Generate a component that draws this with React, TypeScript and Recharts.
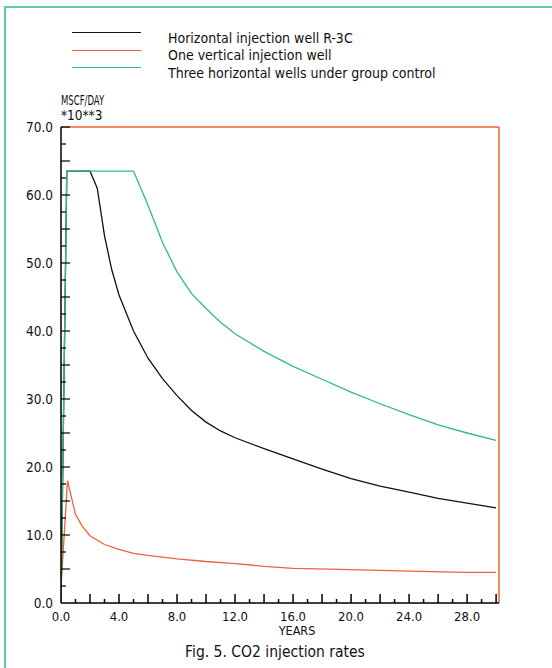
import React from 'react';
import { LineChart, Line, XAxis, YAxis, ReferenceLine } from 'recharts';

// years vs MSCF/DAY *10**3
const horizontalR3C = [
  { t: 0, v: 0 }, { t: 0.4, v: 63.5 }, { t: 2.0, v: 63.5 }, { t: 2.5, v: 61 },
  { t: 3, v: 54 }, { t: 3.5, v: 49 }, { t: 4, v: 45.3 }, { t: 5, v: 40 },
  { t: 6, v: 36 }, { t: 7, v: 33 }, { t: 8, v: 30.5 }, { t: 9, v: 28.3 },
  { t: 10, v: 26.6 }, { t: 11, v: 25.3 }, { t: 12, v: 24.3 }, { t: 14, v: 22.7 },
  { t: 16, v: 21.2 }, { t: 18, v: 19.7 }, { t: 20, v: 18.3 }, { t: 22, v: 17.2 },
  { t: 24, v: 16.3 }, { t: 26, v: 15.4 }, { t: 28, v: 14.7 }, { t: 30, v: 14.0 },
];

const oneVertical = [
  { t: 0, v: 2.3 }, { t: 0.45, v: 18 }, { t: 1, v: 13 }, { t: 1.5, v: 11.2 },
  { t: 2, v: 9.9 }, { t: 3, v: 8.6 }, { t: 4, v: 7.9 }, { t: 5, v: 7.3 },
  { t: 6, v: 7.0 }, { t: 8, v: 6.5 }, { t: 10, v: 6.1 }, { t: 12, v: 5.8 },
  { t: 14, v: 5.4 }, { t: 16, v: 5.1 }, { t: 20, v: 4.9 }, { t: 24, v: 4.7 },
  { t: 28, v: 4.5 }, { t: 30, v: 4.5 },
];

const threeGroup = [
  { t: 0, v: 0 }, { t: 0.4, v: 63.5 }, { t: 5.0, v: 63.5 }, { t: 6, v: 58.5 },
  { t: 7, v: 53 }, { t: 8, v: 48.7 }, { t: 9, v: 45.5 }, { t: 10, v: 43.3 },
  { t: 11, v: 41.3 }, { t: 12, v: 39.6 }, { t: 14, v: 37 }, { t: 16, v: 34.8 },
  { t: 18, v: 32.9 }, { t: 20, v: 31 }, { t: 22, v: 29.3 }, { t: 24, v: 27.7 },
  { t: 26, v: 26.2 }, { t: 28, v: 25 }, { t: 30, v: 23.9 },
];

const xTicks = Array.from({ length: 31 }, (_, i) => i);
const yTicks = Array.from({ length: 29 }, (_, i) => i * 2.5);

const legendItems = [
  { label: 'Horizontal injection well R-3C', color: '#111111' },
  { label: 'One vertical injection well', color: '#f0603a' },
  { label: 'Three horizontal wells under group control', color: '#2dbf7a' },
];

const FONT = "'DejaVu Sans Condensed', 'DejaVu Sans', sans-serif";

const XTick = ({ x, y, payload }: any) => {
  const v = payload.value;
  const major = v % 2 === 0;
  return (
    <g>
      {v !== 0 && (
        <line x1={x} x2={x} y1={y} y2={y - (major ? 9 : 4)} stroke="#000" strokeWidth={1.5} />
      )}
      {v % 4 === 0 && (
        <text x={x} y={y + 18} textAnchor="middle" fontSize={13} fontFamily={FONT} fill="#111">
          {v.toFixed(1)}
        </text>
      )}
    </g>
  );
};

const YTick = ({ x, y, payload }: any) => {
  const v = payload.value;
  const major = v % 5 === 0;
  return (
    <g>
      {v !== 0 && (
        <line x1={x} x2={x + (major ? 9 : 5)} y1={y} y2={y} stroke="#000" strokeWidth={1.2} />
      )}
      {v % 10 === 0 && (
        <text x={x - 8} y={y + 5} textAnchor="end" fontSize={13.5} fontFamily={FONT} fill="#111">
          {v.toFixed(1)}
        </text>
      )}
    </g>
  );
};

const narrow = (sx: number): React.CSSProperties => ({ transform: `scaleX(${sx})`, transformOrigin: 'left center' });

export default function App() {
  return (
    <div style={{ position: 'absolute', left: 0, top: 0, width: 552, height: 668, background: '#fff', fontFamily: FONT }}>
      <div style={{ position: 'absolute', left: 4, top: 6, width: 548, height: 662, borderLeft: '2px solid #62cf9a', borderTop: '2px solid #62cf9a' }} />
      <LineChart
        width={552}
        height={668}
        margin={{ top: 127, right: 53, left: 0, bottom: 0 }}
        style={{ position: 'absolute', left: 0, top: 0 }}
      >
        <XAxis
          type="number"
          dataKey="t"
          domain={[0, 30.2]}
          ticks={xTicks}
          interval={0}
          allowDataOverflow
          height={65}
          tickSize={0}
          tickMargin={0}
          tickLine={false}
          axisLine={{ stroke: '#000', strokeWidth: 1.5 }}
          tick={<XTick />}
        />
        <YAxis
          type="number"
          domain={[0, 70]}
          ticks={yTicks}
          interval={0}
          width={61}
          tickSize={0}
          tickMargin={0}
          tickLine={false}
          axisLine={{ stroke: '#000', strokeWidth: 1.5 }}
          tick={<YTick />}
        />
        <ReferenceLine y={70} stroke="#f0603a" strokeWidth={1.5} />
        <ReferenceLine x={30.2} stroke="#f0603a" strokeWidth={1.5} />
        <Line data={oneVertical} dataKey="v" stroke="#f0603a" strokeWidth={1.3} dot={false} isAnimationActive={false} />
        <Line data={horizontalR3C} dataKey="v" stroke="#111111" strokeWidth={1.3} dot={false} isAnimationActive={false} />
        <Line data={threeGroup} dataKey="v" stroke="#2dbf7a" strokeWidth={1.3} dot={false} isAnimationActive={false} />
      </LineChart>
      {legendItems.map((item, i) => (
        <React.Fragment key={item.label}>
          <div style={{ position: 'absolute', left: 72, top: 32 + i * 17.5, width: 69, height: 0, borderTop: `1.5px solid ${item.color}` }} />
          <div style={{ position: 'absolute', left: 168, top: 31 + i * 17.3, fontSize: 14, lineHeight: '15px', color: '#111', whiteSpace: 'nowrap' }}>
            {item.label}
          </div>
        </React.Fragment>
      ))}
      <div style={{ position: 'absolute', left: 61, top: 93, fontSize: 13.5, lineHeight: '14px', color: '#111', whiteSpace: 'nowrap', ...narrow(0.7) }}>MSCF/DAY</div>
      <div style={{ position: 'absolute', left: 61, top: 108, fontSize: 13.5, lineHeight: '14px', color: '#111', whiteSpace: 'nowrap' }}>*10**3</div>
      <div style={{ position: 'absolute', left: 267, width: 60, top: 626, fontSize: 12.5, lineHeight: '10px', color: '#111', textAlign: 'center' }}>YEARS</div>
      <div style={{ position: 'absolute', left: 125, width: 300, top: 644, fontSize: 15.5, lineHeight: '16px', color: '#111', textAlign: 'center' }}>
        Fig. 5. CO2 injection rates
      </div>
    </div>
  );
}
